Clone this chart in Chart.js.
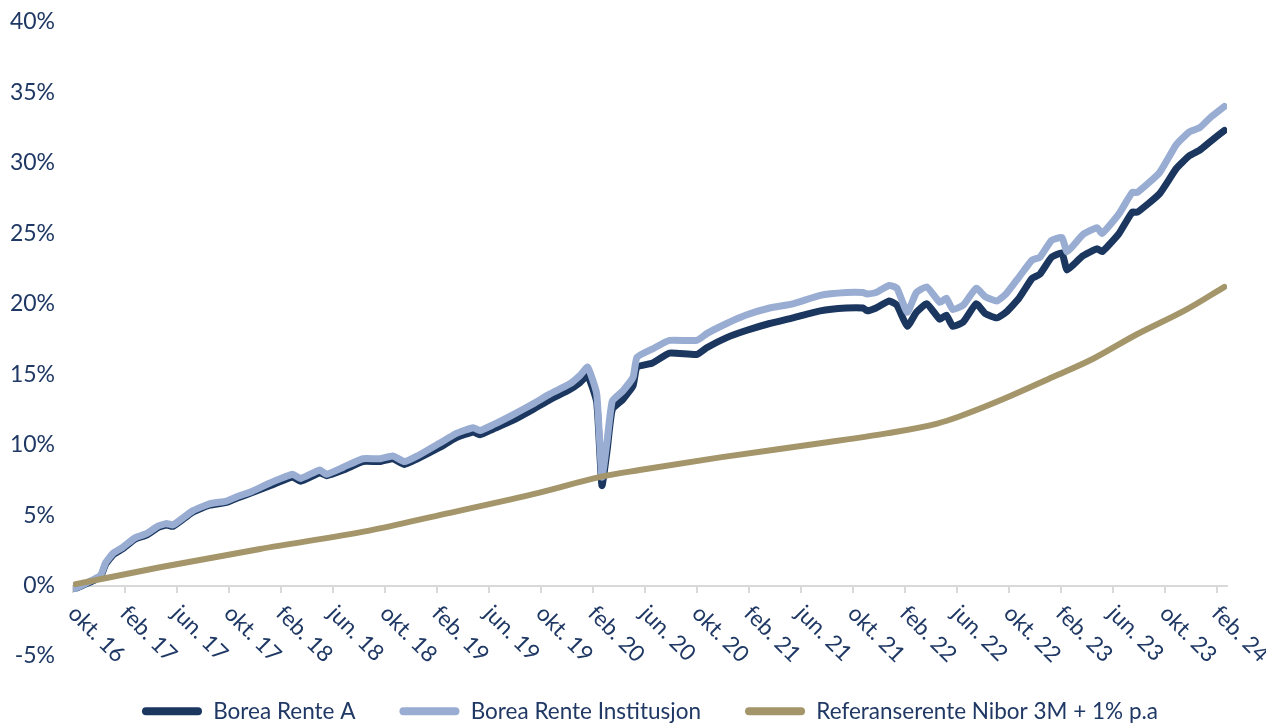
<!DOCTYPE html>
<html>
<head>
<meta charset="utf-8">
<script src="https://cdn.jsdelivr.net/npm/chart.js@4"></script>
<style>
html,body{margin:0;padding:0;background:#ffffff;}
#wrap{width:1266px;height:724px;position:relative;}
</style>
</head>
<body>
<div id="wrap"><canvas id="c" width="1266" height="724"></canvas></div>
<script>
// ---- series names ----
const seriesNames = ["Borea Rente A", "Borea Rente Institusjon", "Referanserente Nibor 3M + 1% p.a"];

// ---- x tick labels (every 4 months, month 0 = okt. 16) ----
const xTickMonths = [0,4,8,12,16,20,24,28,32,36,40,44,48,52,56,60,64,68,72,76,80,84,88];
const xTickLabels = ["okt. 16","feb. 17","jun. 17","okt. 17","feb. 18","jun. 18","okt. 18","feb. 19","jun. 19","okt. 19","feb. 20","jun. 20","okt. 20","feb. 21","jun. 21","okt. 21","feb. 22","jun. 22","okt. 22","feb. 23","jun. 23","okt. 23","feb. 24"];

// ---- fund series: months since okt. 16 and cumulative return (%) ----
const fundMonths = [0.2,2.1,2.5,3.1,3.8,4.8,5.7,6.5,7.2,7.7,
  9.2,10.5,11.8,12.6,13.8,15.2,16.9,17.5,19.0,19.5,
  20.8,22.3,23.6,24.6,25.5,26.5,28.2,29.5,30.8,31.3,
  32.3,33.8,35.4,36.7,38.2,39.0,39.6,40.3,40.7,41.1,
  41.5,42.3,43.1,43.4,44.6,45.9,48.0,48.8,50.3,51.8,
  53.6,55.4,57.5,59.5,60.8,61.1,61.8,62.8,63.4,64.2,
  64.9,65.7,66.7,67.2,67.7,68.5,69.5,70.2,71.1,71.8,
  72.8,73.8,74.4,75.3,76.1,76.5,77.7,78.8,79.2,80.5,
  81.5,81.9,83.6,84.9,85.9,86.7,87.5,88.6];

const renteA = [-0.2,0.6,1.5,2.2,2.6,3.3,3.6,4.1,4.3,4.2,
  5.2,5.7,5.9,6.2,6.6,7.1,7.7,7.4,8.0,7.8,
  8.2,8.8,8.8,9.0,8.6,9.0,9.8,10.5,10.9,10.7,
  11.1,11.7,12.5,13.2,13.9,14.4,14.9,13.0,7.1,9.6,
  12.5,13.2,14.2,15.5,15.8,16.5,16.4,16.9,17.6,18.1,
  18.6,19.0,19.5,19.7,19.7,19.5,19.7,20.2,19.9,18.4,
  19.4,20.0,18.9,19.2,18.4,18.7,20.0,19.3,19.0,19.4,
  20.4,21.8,22.1,23.3,23.6,22.4,23.4,23.9,23.7,25.0,
  26.5,26.5,27.8,29.6,30.5,30.9,31.5,32.3];

const renteInst = [-0.2,0.7,1.6,2.3,2.7,3.4,3.7,4.2,4.4,4.3,
  5.3,5.8,6.0,6.3,6.7,7.3,7.9,7.6,8.2,7.9,
  8.4,9.0,9.0,9.2,8.8,9.2,10.1,10.8,11.2,11.0,
  11.4,12.1,12.9,13.6,14.3,14.9,15.5,13.6,7.7,10.3,
  13.1,13.8,14.8,16.2,16.8,17.4,17.4,17.9,18.6,19.2,
  19.7,20.0,20.6,20.8,20.8,20.7,20.8,21.3,21.1,19.4,
  20.8,21.2,20.1,20.4,19.6,19.9,21.1,20.5,20.2,20.7,
  21.9,23.1,23.3,24.5,24.7,23.7,24.9,25.4,25.0,26.4,
  27.9,27.9,29.3,31.3,32.2,32.5,33.2,34.0];

// ---- reference rate ----
const refMonths = [0.2,6.7,14.4,22.8,28.2,35.9,40.5,43.6,49.8,57.5,62.6,66.5,68.2,71.5,75.4,78.5,81.8,85.7,88.6];
const refValues = [0.1,1.3,2.6,3.9,5.0,6.6,7.7,8.2,9.1,10.1,10.8,11.5,12.0,13.2,14.8,16.1,17.8,19.6,21.2];

// ---- y ticks ----
const yMin = -5, yMax = 40, yStep = 5;

const colA = "#1B375F", colInst = "#99ADD3", colRef = "#A4966A", textCol = "#1F3864";
const fontFam = "Lato, 'Open Sans', sans-serif";

const toXY = (xs, ys) => xs.map((m, i) => ({x: m, y: ys[i]}));

const xLabelPlugin = {
  id: "xLabels",
  afterDraw(chart) {
    const {ctx, scales: {x, y}} = chart;
    const y0 = y.getPixelForValue(0);
    ctx.save();
    ctx.fillStyle = textCol;
    ctx.font = "22.5px " + fontFam;
    ctx.textAlign = "left";
    ctx.textBaseline = "middle";
    xTickMonths.forEach((m, i) => {
      const px = x.getPixelForValue(m);
      ctx.save();
      ctx.translate(px - 1, y0 + 24);
      ctx.rotate(Math.PI / 4);
      ctx.fillText(xTickLabels[i], 0, 0);
      ctx.restore();
    });
    ctx.restore();
  }
};

new Chart(document.getElementById("c"), {
  type: "line",
  data: {
    datasets: [
      {label: seriesNames[0], data: toXY(fundMonths, renteA), borderColor: colA, backgroundColor: colA,
       borderWidth: 7, pointRadius: 0, tension: 0.15, order: 3, borderJoinStyle: "round", borderCapStyle: "round"},
      {label: seriesNames[1], data: toXY(fundMonths, renteInst), borderColor: colInst, backgroundColor: colInst,
       borderWidth: 7, pointRadius: 0, tension: 0.15, order: 2, borderJoinStyle: "round", borderCapStyle: "round"},
      {label: seriesNames[2], data: toXY(refMonths, refValues), borderColor: colRef, backgroundColor: colRef,
       borderWidth: 6, pointRadius: 0, cubicInterpolationMode: "monotone", order: 1, borderCapStyle: "round"}
    ]
  },
  options: {
    responsive: false,
    animation: false,
    layout: {padding: {left: 0, right: 39, top: 22, bottom: 0}},
    scales: {
      x: {
        type: "linear",
        position: {y: 0},
        min: 0, max: 88.8,
        ticks: {display: false, stepSize: 4, includeBounds: false},
        grid: {display: true, drawOnChartArea: false, drawTicks: true, tickLength: 6, color: "#d9d9d9", lineWidth: 2},
        border: {display: true, color: "#d9d9d9", width: 2}
      },
      y: {
        type: "linear",
        min: yMin, max: yMax,
        ticks: {stepSize: yStep, callback: v => v + "%", color: textCol, font: {family: fontFam, size: 23}, padding: 18},
        grid: {display: false, drawTicks: false},
        border: {display: false},
        afterFit(s) { s.width = 73; s.paddingTop = 0; s.paddingBottom = 0; }
      }
    },
    plugins: {
      legend: {
        position: "bottom",
        fullSize: false,
        maxHeight: 68,
        labels: {
          boxWidth: 60, boxHeight: 8, padding: 44, color: textCol,
          font: {family: fontFam, size: 22.5},
          useBorderRadius: true, borderRadius: 4,
          sort: (a, b) => a.datasetIndex - b.datasetIndex,
          generateLabels(chart) {
            const items = Chart.defaults.plugins.legend.labels.generateLabels(chart);
            items.forEach(it => { it.lineWidth = 0; it.fillStyle = it.strokeStyle; });
            return items;
          }
        }
      },
      tooltip: {enabled: false}
    }
  },
  plugins: [xLabelPlugin]
});
</script>
</body>
</html>
